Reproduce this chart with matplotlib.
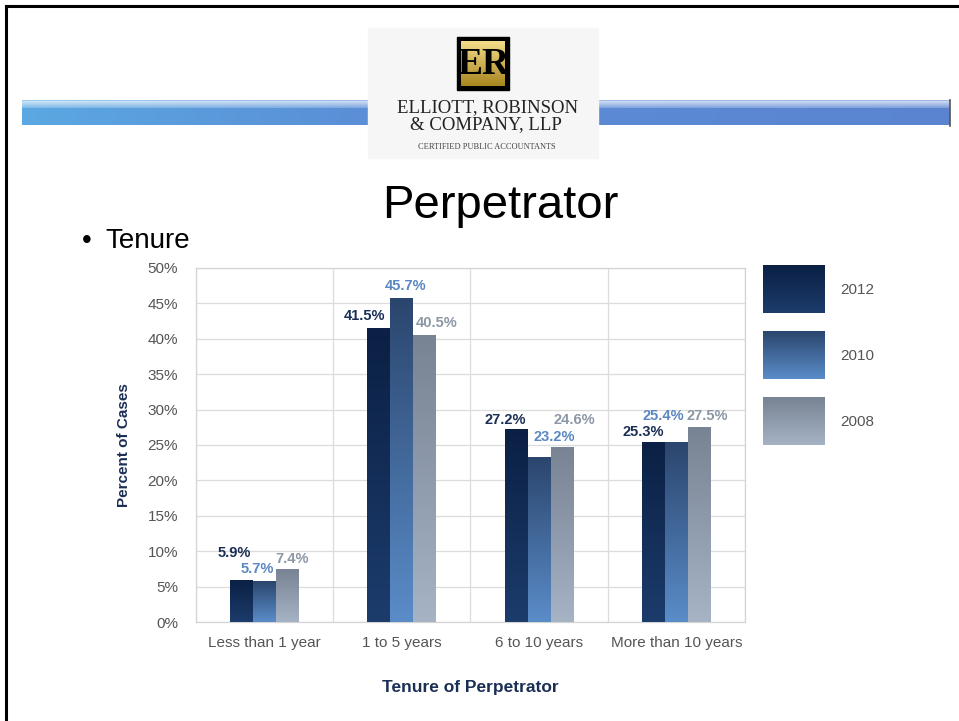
import matplotlib
matplotlib.use("Agg")
import matplotlib.pyplot as plt
import numpy as np
from matplotlib import font_manager
from matplotlib.colors import to_rgb

# data
categories = ["Less than 1 year", "1 to 5 years", "6 to 10 years", "More than 10 years"]
years = ["2012", "2010", "2008"]
pct_2012 = [5.9, 41.5, 27.2, 25.3]
pct_2010 = [5.7, 45.7, 23.2, 25.4]
pct_2008 = [7.4, 40.5, 24.6, 27.5]
y_ticks = [0, 5, 10, 15, 20, 25, 30, 35, 40, 45, 50]

# label nudges (pixels) from the top-centre of each bar
label_nudge = {
    "2012": [(-7, 27), (-14, 12), (-11, 9), (-10, 11)],
    "2010": [(-7, 13), (4, 12), (15, 21), (-13, 26)],
    "2008": [(5, 11), (12, 12), (12, 28), (8, 11)],
}

# vertical gradients (top, bottom) and label colours
bar_grad = {
    "2012": ("#0b2044", "#1c3c6c"),
    "2010": ("#2b466e", "#5a8cc8"),
    "2008": ("#788393", "#a5b3c5"),
}
label_color = {"2012": "#1b2f55", "2010": "#5b87c3", "2008": "#8c97a5"}
NAVY = "#1b2f55"

W, H = 959, 721

installed = {f.name for f in font_manager.fontManager.ttflist}
NARROW = "Liberation Sans Narrow" if "Liberation Sans Narrow" in installed else "Liberation Sans"
plt.rcParams["font.family"] = ["Liberation Sans", "DejaVu Sans"]


def gradient(ax, x0, x1, y0, y1, top, bottom, n=64, **kw):
    c0, c1 = np.array(to_rgb(top)), np.array(to_rgb(bottom))
    t = np.linspace(0, 1, n)[:, None]
    img = (c0 * (1 - t) + c1 * t)[:, None, :]
    ax.imshow(img, extent=[x0, x1, y0, y1], origin="upper", aspect="auto",
              interpolation="bilinear", **kw)


fig = plt.figure(figsize=(W / 100, H / 100), dpi=100)

# slide decoration in pixel coordinates
deco = fig.add_axes([0, 0, 1, 1])
deco.set_xlim(0, W)
deco.set_ylim(H, 0)
deco.axis("off")
deco.plot([6, 6], [6, H], color="black", lw=2.2)
deco.plot([6, W], [6, 6], color="black", lw=2.2)

# blue banner strips: pale glossy top band over a flat body
for x0, x1, cl, cr in [(22, 368, "#5ba8e2", "#5a8ed6"), (598, 950, "#5c8ad4", "#5a84d0")]:
    xs = np.linspace(0, 1, 200)[None, :, None]
    ys = np.linspace(0, 1, 25)[:, None, None]
    base = np.array(to_rgb(cl)) * (1 - xs) + np.array(to_rgb(cr)) * xs
    white = np.where(ys < 0.32, 0.55 * (1 - ys / 0.32) + 0.2, 0.0)
    white = np.where(ys < 0.04, 0.4, white)
    img = base * (1 - white) + white
    deco.imshow(img, extent=[x0, x1, 125, 100], aspect="auto", interpolation="bilinear")
deco.plot([950, 950], [100, 126], color="#555555", lw=1.2)

# logo block
deco.add_patch(plt.Rectangle((368, 28), 230, 130, color="#f6f6f6", zorder=1))
deco.add_patch(plt.Rectangle((457, 37), 52, 53, color="black", zorder=2))
gradient(deco, 461, 505, 86, 41, "#f3dc8a", "#a8861f", zorder=3)
deco.text(483, 64, "ER", ha="center", va="center", fontsize=27, fontweight="bold",
          family="Liberation Serif", color="black", zorder=4)
deco.set_xlim(0, W)
deco.set_ylim(H, 0)
deco.text(488, 108, "ELLIOTT, ROBINSON", ha="center", va="center", fontsize=13.5,
          family="Liberation Serif", color="#222222")
deco.text(486, 125, "& COMPANY, LLP", ha="center", va="center", fontsize=13.5,
          family="Liberation Serif", color="#222222")
deco.text(487, 147, "CERTIFIED PUBLIC ACCOUNTANTS", ha="center", va="center", fontsize=6,
          family="Liberation Serif", color="#444444")

# slide title and bullet
deco.text(500, 218, "Perpetrator", ha="center", va="baseline", fontsize=34, color="black")
deco.text(82, 248, "\u2022", ha="left", va="baseline", fontsize=20, color="black")
deco.text(105, 248, "Tenure", ha="left", va="baseline", fontsize=20, color="black")

# legend swatches
for i, yr in enumerate(years):
    top = 265 + i * 66
    gradient(deco, 763, 825, top + 48, top, *bar_grad[yr])
    deco.text(840, top + 25, yr, ha="left", va="center", fontsize=11,
              family=NARROW, color="#555555")
deco.set_xlim(0, W)
deco.set_ylim(H, 0)

# chart
ax = fig.add_axes([196 / W, 1 - 622 / H, 549 / W, 354 / H])
x = np.arange(len(categories))
bw = 0.167
series = {"2012": pct_2012, "2010": pct_2010, "2008": pct_2008}
for j, yr in enumerate(years):
    xs = x + (j - 1) * bw
    bars = ax.bar(xs, series[yr], width=bw, color="none", zorder=2)
    for k, b in enumerate(bars):
        bx0 = b.get_x()
        gradient(ax, bx0, bx0 + bw, 0, b.get_height(), *bar_grad[yr], zorder=3)
        dx, dy = label_nudge[yr][k]
        ax.annotate(f"{series[yr][k]:.1f}%", (xs[k], series[yr][k]), xytext=(dx, dy),
                    textcoords="offset pixels", ha="center", va="center",
                    fontsize=10.5, fontweight="bold", color=label_color[yr], zorder=4)

ax.set_xlim(-0.5, len(categories) - 0.5)
ax.set_ylim(0, 50)
ax.set_yticks(y_ticks)
ax.set_yticklabels([f"{v}%" for v in y_ticks], family=NARROW, fontsize=11, color="#555555")
ax.set_xticks(x)
ax.set_xticklabels(categories, family=NARROW, fontsize=11, color="#555555")
ax.set_xticks(np.arange(len(categories) + 1) - 0.5, minor=True)
ax.tick_params(which="both", length=0)
ax.tick_params(axis="y", pad=13)
ax.tick_params(axis="x", pad=10)
ax.grid(axis="y", color="#dcdcdc", lw=0.9, zorder=0)
ax.grid(axis="x", which="minor", color="#dcdcdc", lw=0.9, zorder=0)
for s in ax.spines.values():
    s.set_color("#d4d4d4")
    s.set_linewidth(0.9)
ax.set_ylabel("Percent of Cases", fontsize=11, fontweight="bold", color=NAVY, labelpad=12)
ax.set_xlabel("Tenure of Perpetrator", fontsize=12.5, fontweight="bold", color=NAVY,
              family=NARROW, labelpad=22)

fig.savefig("out.png", dpi=100)
